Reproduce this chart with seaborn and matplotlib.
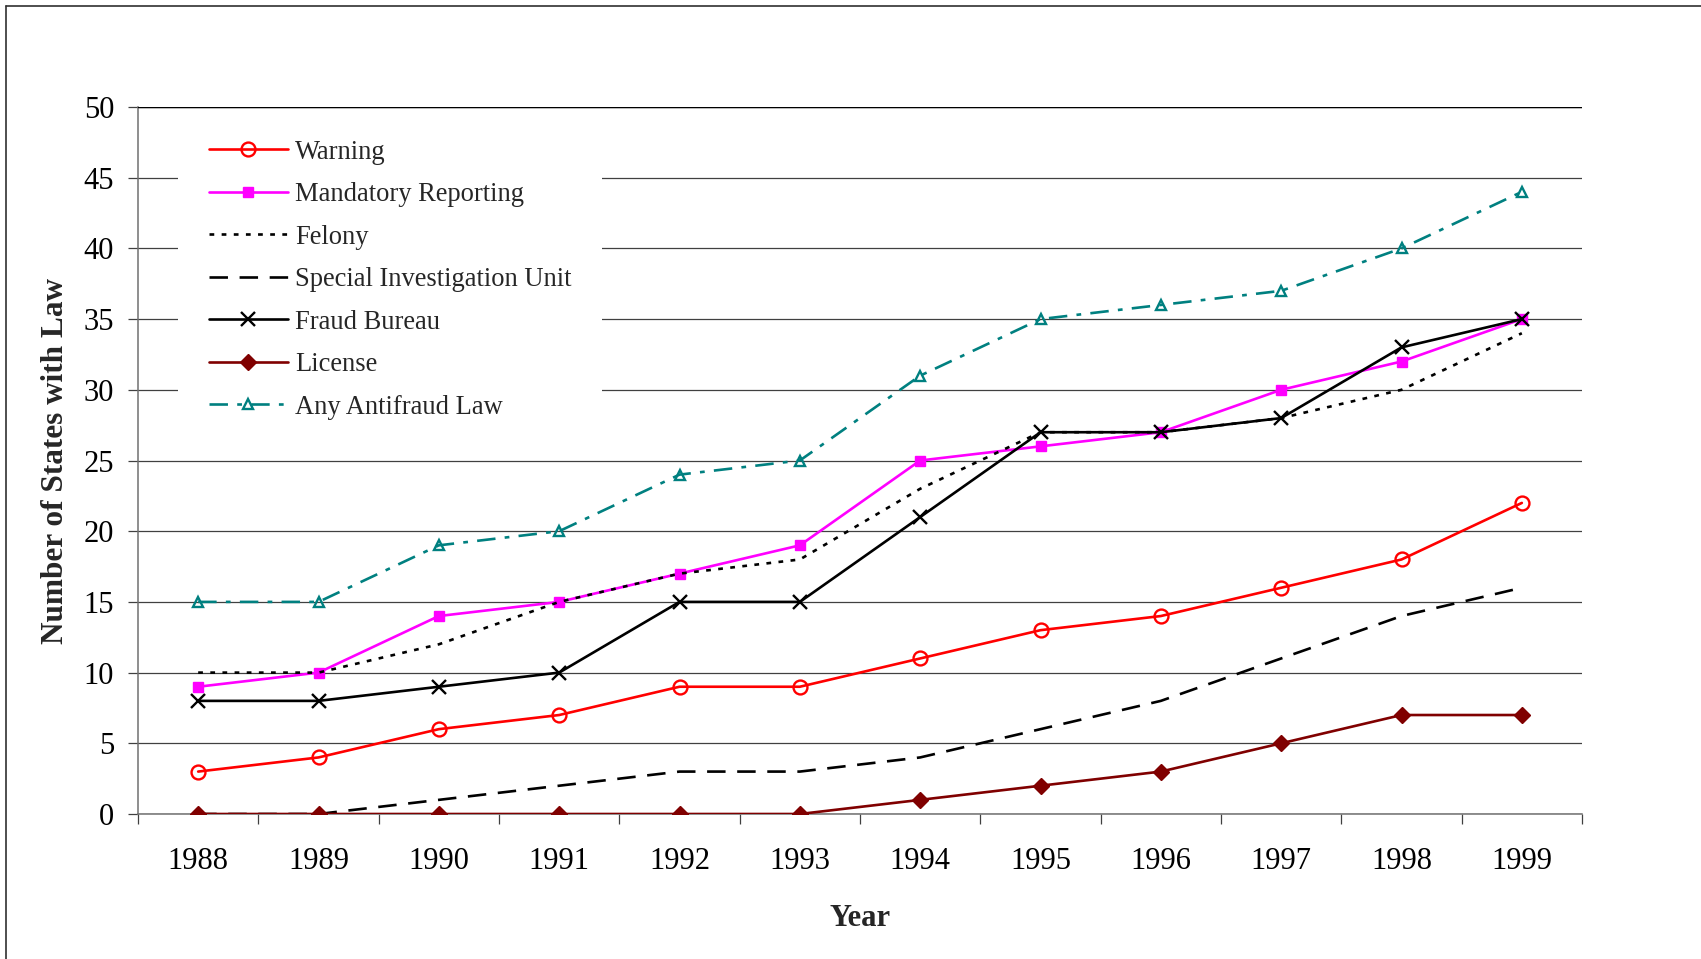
import numpy as np
import pandas as pd
import matplotlib
matplotlib.use("Agg")
import matplotlib.pyplot as plt
from matplotlib.lines import Line2D
import seaborn as sns

years = [1988, 1989, 1990, 1991, 1992, 1993, 1994, 1995, 1996, 1997, 1998, 1999]
warning = [3, 4, 6, 7, 9, 9, 11, 13, 14, 16, 18, 22]
mandatory = [9, 10, 14, 15, 17, 19, 25, 26, 27, 30, 32, 35]
felony = [10, 10, 12, 15, 17, 18, 23, 27, 27, 28, 30, 34]
siu = [0, 0, 1, 2, 3, 3, 4, 6, 8, 11, 14, 16]
fraud = [8, 8, 9, 10, 15, 15, 21, 27, 27, 28, 33, 35]
license_ = [0, 0, 0, 0, 0, 0, 1, 2, 3, 5, 7, 7]
any_law = [15, 15, 19, 20, 24, 25, 31, 35, 36, 37, 40, 44]
y_ticks = [0, 5, 10, 15, 20, 25, 30, 35, 40, 45, 50]

sns.set_theme(style="white")
plt.rcParams["font.family"] = ["Liberation Serif", "DejaVu Serif"]

fig = plt.figure(figsize=(17.01, 9.59), dpi=100)
ax = fig.add_axes([138 / 1701, 1 - 814 / 959, (1582 - 138) / 1701, (814 - 107) / 959])

lw = 1.9
series = [
    ("Warning", warning, dict(color="#FF0000", marker="o", markersize=10,
                               markerfacecolor="none", markeredgecolor="#FF0000",
                               markeredgewidth=1.7, linestyle="-")),
    ("Mandatory Reporting", mandatory, dict(color="#FF00FF", marker="s", markersize=7.5,
                                            markerfacecolor="#FF00FF", markeredgecolor="#FF00FF",
                                            markeredgewidth=1, linestyle="-")),
    ("Felony", felony, dict(color="black", marker=None, linestyle=(0, (1.8, 2.8)))),
    ("Special Investigation Unit", siu, dict(color="black", marker=None, linestyle=(0, (7, 4.4)))),
    ("Fraud Bureau", fraud, dict(color="black", marker="x", markersize=10.5,
                                 markeredgecolor="black", markeredgewidth=1.7, linestyle="-")),
    ("License", license_, dict(color="#800000", marker="D", markersize=8.5,
                               markerfacecolor="#800000", markeredgecolor="#800000",
                               markeredgewidth=1, linestyle="-")),
    ("Any Antifraud Law", any_law, dict(color="#008080", marker="^", markersize=7,
                                        markerfacecolor="none", markeredgecolor="#008080",
                                        markeredgewidth=1.7, linestyle=(0, (7, 3.5, 1.8, 3.5)))),
]

for name, vals, kw in series:
    df = pd.DataFrame({"Year": years, "Value": vals})
    sns.lineplot(data=df, x="Year", y="Value", ax=ax, linewidth=lw, label=name,
                 legend=False, zorder=3, **kw)

ax.set_xlim(years[0] - 0.5, years[-1] + 0.5)
ax.set_ylim(0, 50)
ax.set_yticks(y_ticks)
ax.set_yticklabels([str(t) for t in y_ticks])
ax.set_xticks(np.arange(years[0] - 0.5, years[-1] + 1, 1.0))
ax.set_xticklabels([])
ax.set_xticks(years, minor=True)
ax.set_xticklabels([str(y) for y in years], minor=True)

ax.yaxis.grid(True, color="#404040", linewidth=0.9)
ax.xaxis.grid(False)
ax.set_axisbelow(True)
for s in ["top", "right"]:
    ax.spines[s].set_visible(False)
for s in ["left", "bottom"]:
    ax.spines[s].set_color("#707070")
    ax.spines[s].set_linewidth(1.1)

ax.tick_params(axis="y", which="major", direction="out", length=7.2, width=0.9,
               color="#404040", left=True, pad=10, labelsize=22, labelcolor="black")
ax.tick_params(axis="x", which="major", direction="out", length=7.2, width=0.9,
               color="#404040", bottom=True, labelbottom=False)
ax.tick_params(axis="x", which="minor", length=0, pad=24, labelsize=22, labelcolor="black")

ax.set_xlabel("Year", fontsize=22, fontweight="bold", labelpad=20)
ax.set_ylabel("Number of States with Law", fontsize=22.5, fontweight="bold", labelpad=10)

# top line at 50
ax.axhline(50, color="black", linewidth=1.0, zorder=10)

handles, labels = ax.get_legend_handles_labels()
leg = ax.legend(handles, labels, loc="upper left", bbox_to_anchor=(178 / 1701, 1 - 109 / 959),
                bbox_transform=fig.transFigure, fontsize=19.1, frameon=True, fancybox=False,
                framealpha=1, facecolor="white", edgecolor="white", borderpad=1.15,
                borderaxespad=0, handlelength=3.0, handletextpad=0.25, labelspacing=0.66)
leg.set_zorder(5)
leg.get_frame().set_linewidth(0)

# figure border
fig.add_artist(Line2D([6 / 1701, 6 / 1701], [0, 1 - 6 / 959], transform=fig.transFigure,
                      color="#303030", linewidth=1.2))
fig.add_artist(Line2D([6 / 1701, 1], [1 - 6 / 959, 1 - 6 / 959], transform=fig.transFigure,
                      color="#303030", linewidth=1.2))

fig.savefig("out.png", dpi=100)
